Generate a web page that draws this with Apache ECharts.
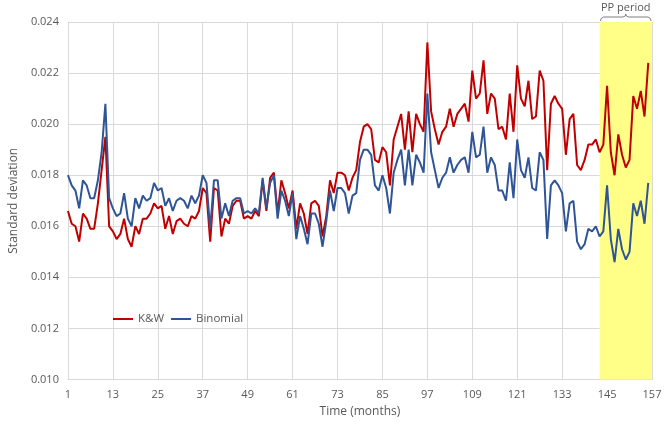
<!DOCTYPE html>
<html>
<head>
<meta charset="utf-8">
<script src="https://cdn.jsdelivr.net/npm/echarts@6/dist/echarts.min.js"></script>
<style>
html,body{margin:0;padding:0;background:#fff;}
#chart{width:667px;height:425px;}
</style>
</head>
<body>
<div id="chart"></div>
<script>
// Categories: months 1..157
const months = [];
for (let m = 1; m <= 157; m++) months.push(String(m));

const seriesNames = ['K&W', 'Binomial'];

const kwValues = [
0.0166,0.0161,0.0160,0.0154,0.0165,0.0163,0.0159,0.0159,0.0169,0.0182,
0.0195,0.0160,0.0158,0.0155,0.0157,0.0163,0.0155,0.0152,0.0160,0.0157,
0.0163,0.0163,0.0165,0.0169,0.0167,0.0168,0.0159,0.0164,0.0157,0.0162,
0.0163,0.0161,0.0160,0.0164,0.0163,0.0166,0.0175,0.0173,0.0154,0.0175,
0.0174,0.0156,0.0163,0.0161,0.0168,0.0170,0.0170,0.0163,0.0164,0.0163,
0.0166,0.0164,0.0178,0.0166,0.0179,0.0181,0.0165,0.0178,0.0173,0.0167,
0.0174,0.0159,0.0169,0.0165,0.0157,0.0169,0.0170,0.0168,0.0156,0.0164,
0.0178,0.0173,0.0181,0.0181,0.0180,0.0174,0.0179,0.0182,0.0193,0.0199,
0.0200,0.0198,0.0186,0.0185,0.0191,0.0189,0.0176,0.0194,0.0199,0.0204,
0.0190,0.0205,0.0189,0.0204,0.0200,0.0197,0.0232,0.0205,0.0198,0.0192,
0.0197,0.0199,0.0206,0.0199,0.0204,0.0206,0.0208,0.0201,0.0221,0.0210,
0.0212,0.0225,0.0204,0.0212,0.0210,0.0198,0.0199,0.0194,0.0212,0.0197,
0.0223,0.0210,0.0207,0.0217,0.0202,0.0203,0.0221,0.0217,0.0182,0.0208,
0.0211,0.0208,0.0206,0.0188,0.0202,0.0204,0.0184,0.0182,0.0186,0.0192,
0.0192,0.0194,0.0189,0.0192,0.0215,0.0189,0.0180,0.0196,0.0188,0.0183,
0.0186,0.0211,0.0206,0.0213,0.0203,0.0224
];

const binomialValues = [
0.0180,0.0176,0.0174,0.0167,0.0178,0.0176,0.0171,0.0171,0.0178,0.0189,
0.0208,0.0171,0.0167,0.0164,0.0165,0.0173,0.0163,0.0160,0.0171,0.0167,
0.0172,0.0170,0.0171,0.0177,0.0174,0.0175,0.0168,0.0171,0.0166,0.0170,
0.0171,0.0170,0.0167,0.0172,0.0169,0.0172,0.0180,0.0177,0.0159,0.0178,
0.0178,0.0163,0.0169,0.0164,0.0170,0.0171,0.0171,0.0165,0.0166,0.0165,
0.0167,0.0165,0.0179,0.0167,0.0177,0.0180,0.0163,0.0174,0.0170,0.0164,
0.0173,0.0155,0.0164,0.0159,0.0153,0.0165,0.0165,0.0161,0.0152,0.0162,
0.0174,0.0166,0.0175,0.0175,0.0173,0.0165,0.0172,0.0173,0.0186,0.0190,
0.0190,0.0188,0.0176,0.0174,0.0180,0.0175,0.0165,0.0181,0.0186,0.0190,
0.0176,0.0190,0.0176,0.0188,0.0185,0.0181,0.0212,0.0189,0.0182,0.0175,
0.0179,0.0181,0.0187,0.0181,0.0184,0.0186,0.0187,0.0181,0.0197,0.0187,
0.0188,0.0199,0.0181,0.0187,0.0184,0.0174,0.0174,0.0170,0.0185,0.0171,
0.0194,0.0182,0.0179,0.0187,0.0175,0.0174,0.0189,0.0186,0.0155,0.0176,
0.0178,0.0176,0.0173,0.0158,0.0169,0.0170,0.0154,0.0151,0.0153,0.0159,
0.0158,0.0160,0.0156,0.0158,0.0176,0.0155,0.0146,0.0159,0.0151,0.0147,
0.0150,0.0169,0.0164,0.0170,0.0161,0.0177
];

const ppPeriod = ['143', '157'];
const ppLabel = 'PP period';
const xTitle = 'Time (months)';
const yTitle = 'Standard deviation';
const yMin = 0.010, yMax = 0.024, yStep = 0.002;

const chart = echarts.init(document.getElementById('chart'), null, {renderer: 'canvas'});
const textColor = '#595959';
const gridColor = '#d9d9d9';
const font = "'Open Sans', 'Liberation Sans', sans-serif";

chart.setOption({
  animation: false,
  textStyle: {fontFamily: font},
  grid: {left: 53, right: 15, top: 22, bottom: 45.5, containLabel: false},
  legend: {
    data: seriesNames,
    left: 108, top: 308,
    itemWidth: 20, itemHeight: 2, itemGap: 7,
    icon: 'rect',
    textStyle: {color: textColor, fontSize: 11.5, fontFamily: font}
  },
  xAxis: {
    type: 'category',
    data: months,
    boundaryGap: false,
    name: xTitle,
    nameLocation: 'middle',
    nameGap: 23,
    nameTextStyle: {color: textColor, fontSize: 12, fontFamily: font},
    axisLine: {lineStyle: {color: gridColor}},
    axisTick: {show: false},
    axisLabel: {interval: 11, color: textColor, fontSize: 11, margin: 10, fontFamily: font},
    splitLine: {show: true, interval: 11, lineStyle: {color: gridColor}}
  },
  yAxis: {
    type: 'value',
    min: yMin, max: yMax, interval: yStep,
    name: yTitle,
    nameLocation: 'middle',
    nameGap: 43,
    nameTextStyle: {color: textColor, fontSize: 12, fontFamily: font},
    axisLine: {show: false},
    axisTick: {show: false},
    axisLabel: {color: textColor, fontSize: 11, margin: 9, fontFamily: font,
      formatter: v => v.toFixed(3)},
    splitLine: {lineStyle: {color: gridColor}}
  },
  series: [
    {
      name: seriesNames[0],
      type: 'line',
      data: kwValues,
      symbol: 'none',
      lineStyle: {color: '#c00000', width: 2},
      itemStyle: {color: '#c00000'},
      z: 3,
      markArea: {
        silent: true,
        itemStyle: {color: '#ffff88', opacity: 1},
        data: [[{xAxis: ppPeriod[0]}, {xAxis: ppPeriod[1]}]]
      }
    },
    {
      name: seriesNames[1],
      type: 'line',
      data: binomialValues,
      symbol: 'none',
      lineStyle: {color: '#2f5597', width: 2},
      itemStyle: {color: '#2f5597'},
      z: 4
    }
  ]
});

// PP period bracket + label placed from the axis scale
function drawBracket() {
  const x0 = chart.convertToPixel({xAxisIndex: 0}, ppPeriod[0]);
  const x1 = chart.convertToPixel({xAxisIndex: 0}, ppPeriod[1]);
  const yTop = chart.convertToPixel({yAxisIndex: 0}, yMax);
  const xm = (x0 + x1) / 2;
  const yb = yTop - 5, ytip = yTop - 8, yend = yTop - 1;
  chart.setOption({
    graphic: [
      {
        type: 'polyline',
        shape: {
          points: [
            [x0 + 1, yend], [x0 + 1.5, yb + 1.5], [x0 + 4, yb],
            [xm - 3, yb], [xm - 0.5, yb - 1], [xm, ytip],
            [xm + 0.5, yb - 1], [xm + 3, yb],
            [x1 - 4, yb], [x1 - 1.5, yb + 1.5], [x1 - 1, yend]
          ]
        },
        style: {stroke: '#7f7f7f', lineWidth: 1, fill: null},
        silent: true
      },
      {
        type: 'text',
        x: xm, y: ytip - 1,
        style: {text: ppLabel, fill: textColor, font: `11px ${font}`, align: 'center', verticalAlign: 'bottom'},
        silent: true
      }
    ]
  });
}
drawBracket();
</script>
</body>
</html>
